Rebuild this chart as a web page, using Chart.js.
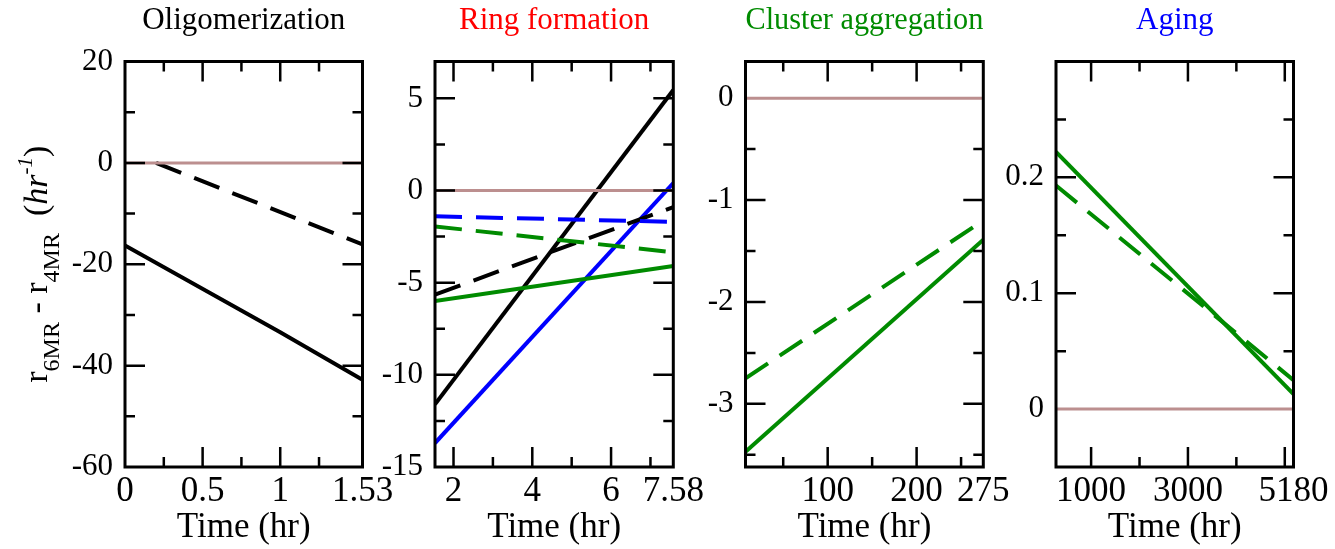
<!DOCTYPE html>
<html>
<head>
<meta charset="utf-8">
<title>r6MR - r4MR vs time</title>
<script src="https://cdn.jsdelivr.net/npm/chart.js@4.4.1/dist/chart.umd.min.js"></script>
<style>
  html, body { margin: 0; padding: 0; background: #ffffff; }
  #wrap { position: relative; width: 1335px; height: 549px; }
  #wrap canvas { position: absolute; left: 0; top: 0; }
</style>
</head>
<body>
<div id="wrap">
  <canvas id="oligo" width="1335" height="549"></canvas>
  <canvas id="ring" width="1335" height="549"></canvas>
  <canvas id="cluster" width="1335" height="549"></canvas>
  <canvas id="aging" width="1335" height="549"></canvas>
</div>
<script>
// ---- data ----

// Oligomerization (0 - 1.53 hr)
const oligoTime = [0, 1.0, 1.53];
const oligoBlackSolid = [-16.3, -33.4, -42.8];
const oligoDashTime = [0.2, 1.53];
const oligoBlackDash = [0, -16.1];
const oligoXLabels = [0, 0.5, 1, 1.53];
const oligoXMajor = [0.5, 1];
const oligoXMinor = [0.25, 0.75, 1.25];
const oligoYLabels = [-60, -40, -20, 0, 20];
const oligoYMajor = [-40, -20, 0];
const oligoYMinor = [-50, -30, -10, 10];

// Ring formation (1.53 - 7.58 hr)
const ringTime = [1.53, 7.58];
const ringBlackSolid = [-11.6, 5.45];
const ringBlueSolid = [-13.7, 0.4];
const ringGreenSolid = [-6.0, -4.1];
const ringBlackDash = [-5.65, -0.9];
const ringBlueDash = [-1.4, -1.7];
const ringGreenDash = [-1.95, -3.35];
const ringXLabels = [2, 4, 6, 7.58];
const ringXMajor = [2, 4, 6];
const ringXMinor = [3, 5, 7];
const ringYLabels = [-15, -10, -5, 0, 5];
const ringYMajor = [-10, -5, 0, 5];
const ringYMinor = [-12.5, -7.5, -2.5, 2.5];

// Cluster aggregation (7.58 - 275 hr)
const clusterTime = [7.58, 275];
const clusterGreenSolid = [-3.47, -1.39];
const clusterGreenDash = [-2.75, -1.2];
const clusterXLabels = [100, 200, 275];
const clusterXMajor = [100, 200];
const clusterXMinor = [50, 150, 250];
const clusterYLabels = [-3, -2, -1, 0];
const clusterYMajor = [-3, -2, -1];
const clusterYMinor = [-3.5, -2.5, -1.5, -0.5];

// Aging (275 - 5180 hr)
const agingTime = [275, 5180];
const agingGreenSolid = [0.222, 0.013];
const agingGreenDash = [0.193, 0.025];
const agingXLabels = [1000, 3000, 5180];
const agingXMajor = [1000, 3000, 5000];
const agingXMinor = [2000, 4000];
const agingYLabels = [0, 0.1, 0.2];
const agingYMajor = [0.1, 0.2];
const agingYMinor = [0.05, 0.15, 0.25];

const panelTitles = ['Oligomerization', 'Ring formation', 'Cluster aggregation', 'Aging'];
const xTitle = 'Time (hr)';
const yTitleText = ['r', '6MR', ' - r', '4MR', '  (', 'hr', '-1', ')'];

// ---- styling ----
const INK = '#000000';
const RED = '#ff0000';
const GREEN = '#008b00';
const BLUE = '#0000ff';
const ZERO = '#bc8f8f';
const DASH = [27, 14];
const SERIF = "'Liberation Serif', 'Times New Roman', serif";

Chart.defaults.font.family = SERIF;
Chart.defaults.color = INK;
Chart.defaults.animation = false;

const PLOT_TOP = 61.5;
const PLOT_BOTTOM = 467;
const Y_AXIS_W = 60;
const X_AXIS_H = 549 - PLOT_BOTTOM;

function pts(xs, ys) {
    return xs.map((x, i) => ({ x: x, y: ys[i] }));
}

function line(xs, ys, color, dashed) {
    return {
        data: pts(xs, ys),
        borderColor: color,
        borderWidth: 4,
        borderDash: dashed ? DASH : [],
        pointRadius: 0,
        fill: false,
        tension: 0
    };
}

function zeroLine(xs) {
    return {
        data: pts(xs, xs.map(() => 0)),
        borderColor: ZERO,
        borderWidth: 3,
        pointRadius: 0,
        fill: false
    };
}

// frame with inward ticks on all four sides
const frameTicks = {
    id: 'frameTicks',
    afterDatasetsDraw(chart, args, opts) {
        const { ctx, chartArea: a } = chart;
        const x = chart.scales.x;
        const y = chart.scales.y;
        ctx.save();
        ctx.strokeStyle = INK;
        ctx.lineWidth = 2.5;
        ctx.beginPath();
        const vmark = (v, len) => {
            const px = x.getPixelForValue(v);
            ctx.moveTo(px, a.top); ctx.lineTo(px, a.top + len);
            ctx.moveTo(px, a.bottom); ctx.lineTo(px, a.bottom - len);
        };
        const hmark = (v, len) => {
            const py = y.getPixelForValue(v);
            ctx.moveTo(a.left, py); ctx.lineTo(a.left + len, py);
            ctx.moveTo(a.right, py); ctx.lineTo(a.right - len, py);
        };
        opts.xMajor.forEach(v => vmark(v, 20));
        opts.xMinor.forEach(v => vmark(v, 10));
        opts.yMajor.forEach(v => hmark(v, 20));
        opts.yMinor.forEach(v => hmark(v, 10));
        ctx.stroke();
        ctx.lineWidth = 3;
        ctx.strokeRect(a.left, a.top, a.right - a.left, a.bottom - a.top);
        ctx.restore();
    }
};

// rotated y-axis title with sub/superscripts (first panel only)
const yTitle = {
    id: 'yTitle',
    afterDraw(chart) {
        const { ctx, chartArea: a } = chart;
        const fonts = [
            ['', 34, 0], ['', 24, 12], ['', 34, 0], ['', 24, 12],
            ['', 34, 0], ['italic ', 34, 0], ['italic ', 21, -15], ['', 34, 0]
        ];
        ctx.save();
        ctx.fillStyle = INK;
        ctx.textBaseline = 'alphabetic';
        let total = 0;
        const widths = yTitleText.map((t, i) => {
            ctx.font = fonts[i][0] + fonts[i][1] + 'px ' + SERIF;
            const w = ctx.measureText(t).width;
            total += w;
            return w;
        });
        ctx.translate(47, (a.top + a.bottom) / 2);
        ctx.rotate(-Math.PI / 2);
        let pos = -total / 2;
        yTitleText.forEach((t, i) => {
            ctx.font = fonts[i][0] + fonts[i][1] + 'px ' + SERIF;
            ctx.fillText(t, pos, fonts[i][2]);
            pos += widths[i];
        });
        ctx.restore();
    }
};

function makePanel(id, p) {
    const plugins = [frameTicks];
    if (p.withYTitle) plugins.push(yTitle);
    return new Chart(document.getElementById(id), {
        type: 'line',
        data: { datasets: p.datasets },
        plugins: plugins,
        options: {
            responsive: false,
            events: [],
            layout: {
                padding: { left: p.left - Y_AXIS_W, right: 1335 - p.right, top: 0, bottom: 0 }
            },
            plugins: {
                legend: { display: false },
                tooltip: { enabled: false },
                title: {
                    display: true,
                    text: p.title,
                    color: p.titleColor,
                    fullSize: false,
                    font: { size: 31, weight: 'normal' },
                    padding: { top: 2, bottom: PLOT_TOP - 2 - 31 * 1.2 }
                },
                frameTicks: { xMajor: p.xMajor, xMinor: p.xMinor, yMajor: p.yMajor, yMinor: p.yMinor }
            },
            scales: {
                x: {
                    type: 'linear',
                    min: p.xMin,
                    max: p.xMax,
                    afterBuildTicks: s => { s.ticks = p.xLabels.map(v => ({ value: v })); },
                    afterFit: s => { s.height = X_AXIS_H; s.paddingLeft = 0; s.paddingRight = 0; },
                    grid: { display: false, drawTicks: false },
                    border: { display: false },
                    ticks: {
                        autoSkip: false, maxRotation: 0, minRotation: 0,
                        padding: 4, color: INK, font: { size: 35 },
                        callback: v => String(v)
                    },
                    title: { display: true, text: xTitle, color: INK, font: { size: 35 }, padding: 0 }
                },
                y: {
                    type: 'linear',
                    min: p.yMin,
                    max: p.yMax,
                    afterBuildTicks: s => { s.ticks = p.yLabels.map(v => ({ value: v })); },
                    afterFit: s => { s.width = Y_AXIS_W; s.paddingTop = 0; s.paddingBottom = 0; },
                    grid: { display: false, drawTicks: false },
                    border: { display: false },
                    ticks: {
                        autoSkip: false, padding: 12, color: INK, font: { size: 31 },
                        callback: v => String(v)
                    }
                }
            }
        }
    });
}

makePanel('oligo', {
    left: 125, right: 362.5, title: panelTitles[0], titleColor: INK, withYTitle: true,
    xMin: 0, xMax: 1.53, yMin: -60, yMax: 20,
    xLabels: oligoXLabels, xMajor: oligoXMajor, xMinor: oligoXMinor,
    yLabels: oligoYLabels, yMajor: oligoYMajor, yMinor: oligoYMinor,
    datasets: [
        zeroLine([0, 1.53]),
        line(oligoDashTime, oligoBlackDash, INK, true),
        line(oligoTime, oligoBlackSolid, INK, false)
    ]
});

makePanel('ring', {
    left: 435, right: 673.3, title: panelTitles[1], titleColor: RED,
    xMin: 1.53, xMax: 7.58, yMin: -15, yMax: 7,
    xLabels: ringXLabels, xMajor: ringXMajor, xMinor: ringXMinor,
    yLabels: ringYLabels, yMajor: ringYMajor, yMinor: ringYMinor,
    datasets: [
        zeroLine(ringTime),
        line(ringTime, ringBlueDash, BLUE, true),
        line(ringTime, ringGreenDash, GREEN, true),
        line(ringTime, ringBlackDash, INK, true),
        line(ringTime, ringGreenSolid, GREEN, false),
        line(ringTime, ringBlueSolid, BLUE, false),
        line(ringTime, ringBlackSolid, INK, false)
    ]
});

makePanel('cluster', {
    left: 745.5, right: 983.3, title: panelTitles[2], titleColor: GREEN,
    xMin: 7.58, xMax: 275, yMin: -3.62, yMax: 0.36,
    xLabels: clusterXLabels, xMajor: clusterXMajor, xMinor: clusterXMinor,
    yLabels: clusterYLabels, yMajor: clusterYMajor, yMinor: clusterYMinor,
    datasets: [
        zeroLine(clusterTime),
        line(clusterTime, clusterGreenDash, GREEN, true),
        line(clusterTime, clusterGreenSolid, GREEN, false)
    ]
});

makePanel('aging', {
    left: 1056, right: 1293.5, title: panelTitles[3], titleColor: BLUE,
    xMin: 275, xMax: 5180, yMin: -0.05, yMax: 0.3,
    xLabels: agingXLabels, xMajor: agingXMajor, xMinor: agingXMinor,
    yLabels: agingYLabels, yMajor: agingYMajor, yMinor: agingYMinor,
    datasets: [
        zeroLine(agingTime),
        line(agingTime, agingGreenDash, GREEN, true),
        line(agingTime, agingGreenSolid, GREEN, false)
    ]
});
</script>
</body>
</html>
